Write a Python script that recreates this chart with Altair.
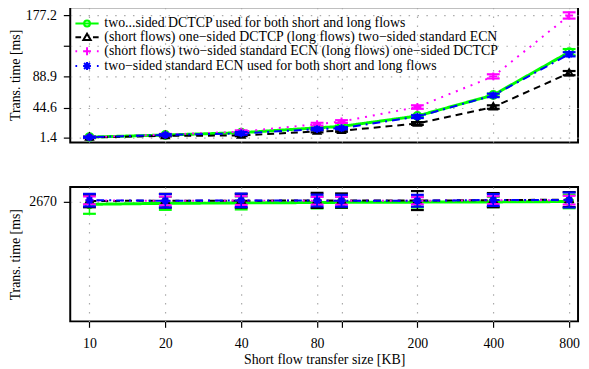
import altair as alt
import pandas as pd

# ---------------- data ----------------
sizes = [10, 20, 40, 80, 100, 200, 400, 800]

names = [
    "two...sided DCTCP used for both short and long flows",
    "(short flows) one\u2212sided DCTCP (long flows) two\u2212sided standard ECN",
    "(short flows) two\u2212sided standard ECN (long flows) one\u2212sided DCTCP",
    "two\u2212sided standard ECN used for both short and long flows",
]
colors = ["#00ff00", "#000000", "#ff00ff", "#0000ff"]

# top panel (mean transfer time of short flows)
top_green = [2.2, 5.2, 8.5, 15.5, 17.5, 32.5, 62.5, 124.0]
top_black = [1.6, 4.0, 4.5, 10.3, 11.3, 21.7, 45.3, 94.0]
top_magenta = [2.0, 5.8, 9.9, 20.8, 24.5, 45.3, 89.3, 176.7]
top_blue = [2.0, 5.4, 7.5, 13.7, 15.0, 31.5, 62.0, 121.0]
top_green_err = [0.8, 0.8, 1.0, 1.2, 1.2, 1.5, 2.0, 4.5]
top_black_err = [0.8, 0.8, 1.0, 1.5, 1.5, 2.0, 2.5, 3.0]
top_magenta_err = [0.8, 1.0, 2.0, 2.0, 2.0, 2.5, 3.0, 4.5]
top_blue_err = [0.8, 1.0, 2.0, 1.5, 1.5, 2.0, 2.5, 3.0]

# bottom panel (long flows)
bot_green = [2656, 2661, 2663, 2665, 2666, 2667, 2668, 2670]
bot_black = [2673, 2674, 2674, 2676, 2675, 2675, 2677, 2680]
bot_magenta = [2676, 2673, 2675, 2674, 2674, 2674, 2677, 2677]
bot_blue = [2677, 2674, 2676, 2675, 2674, 2674, 2678, 2678]
bot_green_err = [48, 33, 33, 30, 28, 27, 26, 34]
bot_black_err = [32, 35, 35, 38, 36, 48, 36, 38]
bot_magenta_err = [20, 22, 22, 20, 20, 18, 20, 22]
bot_blue_err = [32, 34, 34, 30, 30, 30, 30, 38]

top_ticks = [1.4, 44.6, 88.9, 133.05, 177.2]
bot_ticks = [2670]

# ---------------- styles ----------------
FONT = "Liberation Serif"
widths = [3, 2, 2, 2]
dashes = [[1, 0], [7, 5], [2, 6], [2, 5, 8, 5]]
markers = [
    "circle",
    "M0,-1L0.9,0.6L-0.9,0.6Z",
    "M-1,0H1M0,-1V1",
    "M-1,0H1M0,-1V1M-0.7,-0.7L0.7,0.7M-0.7,0.7L0.7,-0.7",
]
legend_paths = [
    "M-2.35,0H2.35M0.6,0A0.6,0.6,0,1,1,-0.6,0A0.6,0.6,0,1,1,0.6,0",
    "M-2.35,0H-1.2M1.2,0H2.35M0,-0.75L0.75,0.55L-0.75,0.55Z",
    "M-2.35,0H-2.0M2.0,0H2.35M-0.8,0H0.8M0,-0.8V0.8",
    "M-2.35,0H-2.0M2.0,0H2.35M-0.8,0H0.8M0,-0.8V0.8M-0.6,-0.6L0.6,0.6M-0.6,0.6L0.6,-0.6",
]

W = 514
xscale = alt.Scale(type="log", domain=[8.39, 867.7], nice=False)

grid_kw = dict(grid=True, gridColor="#aaaaaa", gridDash=[1.5, 7.5], gridWidth=1.2)

top_x_axis = alt.Axis(values=sizes, labels=False, ticks=False, domain=False, title=None,
                      minExtent=0, maxExtent=0, **grid_kw)
bot_x_axis = alt.Axis(values=sizes, title="Short flow transfer size [KB]",
                      labelExpr="datum.value == 100 ? '' : format(datum.value, 'd')",
                      tickSize=6, tickWidth=1.2, labelPadding=9, titlePadding=3,
                      domain=False, **grid_kw)

top_y_axis = alt.Axis(values=top_ticks, title="Trans. time [ms]",
                      labelExpr="(datum.value > 130 && datum.value < 140) ? '' : format(datum.value, '.1f')",
                      tickSize=7, tickWidth=1.2, labelPadding=7, titlePadding=6,
                      minExtent=42, maxExtent=42, domain=False, **grid_kw)
bot_y_axis = alt.Axis(values=bot_ticks, title="Trans. time [ms]", format="d",
                      tickSize=7, tickWidth=1.2, labelPadding=7, titlePadding=6,
                      minExtent=42, maxExtent=42, domain=False, **grid_kw)

top_yscale = alt.Scale(domain=[-5.65, 188.5], nice=False, zero=False)
bot_yscale = alt.Scale(domain=[2063.5, 2743.5], nice=False, zero=False)


def series_df(vals, errs):
    return pd.DataFrame({
        "size": sizes,
        "value": vals,
        "lo": [v - e for v, e in zip(vals, errs)],
        "hi": [v + e for v, e in zip(vals, errs)],
    })


def panel(means, errs, yscale, yaxis, xaxis, height, with_legend):
    layers = []
    for i in range(4):
        base = alt.Chart(series_df(means[i], errs[i]))
        x = alt.X("size:Q", scale=xscale, axis=xaxis)
        line = base.mark_line(color=colors[i], strokeWidth=widths[i], strokeDash=dashes[i],
                              strokeCap="butt", clip=True).encode(
            x=x, y=alt.Y("value:Q", scale=yscale, axis=yaxis))
        stems = base.mark_rule(color=colors[i], strokeWidth=1.5).encode(
            x=x, y=alt.Y("lo:Q", scale=yscale, axis=yaxis), y2="hi:Q")
        caps = base.transform_fold(["lo", "hi"], as_=["end", "cap"]).mark_tick(
            color=colors[i], orient="horizontal", size=13, thickness=2.2, opacity=1).encode(
            x=x, y=alt.Y("cap:Q", scale=yscale, axis=yaxis))
        pts = base.mark_point(shape=markers[i], color=colors[i], filled=False, size=64,
                              strokeWidth=2, opacity=1).encode(
            x=x, y=alt.Y("value:Q", scale=yscale, axis=yaxis))
        layers += [line, stems, caps, pts]
    if with_legend:
        leg = alt.Legend(orient="none", legendX=10, legendY=9.5, title=None,
                         labelFont=FONT, labelFontSize=14, labelColor="black", labelLimit=0,
                         symbolSize=100, symbolStrokeWidth=2, symbolOpacity=1,
                         labelOffset=10.5, rowPadding=-1.5, padding=0)
        leg_df = pd.DataFrame({"series": names, "size": [sizes[0]] * 4,
                               "value": [means[0][0]] * 4})
        legend_layer = alt.Chart(leg_df).mark_point(filled=False, opacity=0, strokeWidth=2).encode(
            x=alt.X("size:Q", scale=xscale, axis=xaxis),
            y=alt.Y("value:Q", scale=yscale, axis=yaxis),
            color=alt.Color("series:N", scale=alt.Scale(domain=names, range=colors), legend=leg),
            shape=alt.Shape("series:N", scale=alt.Scale(domain=names, range=legend_paths), legend=leg),
        )
        layers.append(legend_layer)
    return alt.layer(*layers).properties(width=W, height=height)


top = panel([top_green, top_black, top_magenta, top_blue],
            [top_green_err, top_black_err, top_magenta_err, top_blue_err],
            top_yscale, top_y_axis, top_x_axis, 137, True)
bottom = panel([bot_green, bot_black, bot_magenta, bot_blue],
               [bot_green_err, bot_black_err, bot_magenta_err, bot_blue_err],
               bot_yscale, bot_y_axis, bot_x_axis, 136, False)

chart = alt.vconcat(top, bottom, spacing=45, bounds="flush").properties(
    padding={"left": 0, "top": -4, "right": 0, "bottom": 0}
).configure_view(stroke="black", strokeWidth=2).configure_axis(
    labelFont=FONT, titleFont=FONT, labelFontSize=14, titleFontSize=14,
    labelColor="black", titleColor="black", titleFontWeight="normal", tickColor="black",
).configure_legend(labelFont=FONT)

chart.save("out.html", embed_options={"renderer": "svg", "actions": False})
